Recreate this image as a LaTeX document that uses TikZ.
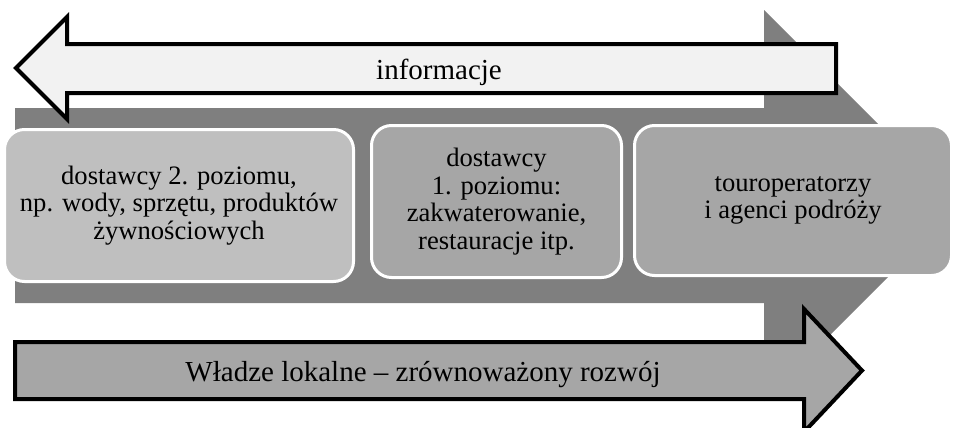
\documentclass[tikz,border=0pt]{standalone}
\usepackage{fontspec}
\setmainfont{Liberation Serif}
\usepackage{xcolor}
\usepackage{tikz}
\usetikzlibrary{positioning}
\definecolor{bandgray}{RGB}{127,127,127}
\definecolor{boxlight}{RGB}{191,191,191}
\definecolor{boxmid}{RGB}{166,166,166}
\definecolor{infofill}{RGB}{242,242,242}

\begin{document}
\begin{tikzpicture}[
    x=0.5pt, y=-0.5pt,
    stage/.style={rectangle, draw=white, line width=1.5pt, rounded corners=10pt, align=center, inner sep=0pt, font=\fontsize{13.3}{13.8}\selectfont},
    flow/.style={draw=black, line width=2pt, line join=miter},
    flowtext/.style={anchor=base, font=\fontsize{14.5}{16}\selectfont},
]
\useasboundingbox (0,0) rectangle (953,428);
\clip (0,0) rectangle (953,428);

% wide background arrow
\fill[bandgray] (15,108) -- (764,108) -- (764,10) -- (959.5,205.5) -- (764,401) -- (764,303) -- (15,303) -- cycle;

% information flow (to the left)
\draw[flow, fill=infofill] (16,68) -- (67,17) -- (67,44) -- (836,44) -- (836,93) -- (67,93) -- (67,119) -- cycle;
\node[flowtext] (info) at (439,79) {informacje};

% supply chain tiers
\node[stage, fill=boxlight, minimum width=174.5pt, minimum height=76pt] (tier2) at (179,205.5) {dostawcy 2. poziomu,\\np. wody, sprzętu, produktów\\żywnościowych};
\node[stage, fill=boxmid, minimum width=125pt, minimum height=76pt] (tier1) at (496.5,201.5) {dostawcy\\1. poziomu:\\zakwaterowanie,\\restauracje itp.};
\node[stage, fill=boxmid, minimum width=158.5pt, minimum height=75pt] (tour) at (793,200.5) {touroperatorzy\\i agenci podróży};

% local authorities (to the right)
\draw[flow, fill=boxmid] (15,342) -- (804,342) -- (804,309) -- (862,370.5) -- (804,432) -- (804,399) -- (15,399) -- cycle;
\node[flowtext] (gov) at (423,381) {Władze lokalne – zrównoważony rozwój};
\end{tikzpicture}
\end{document}
